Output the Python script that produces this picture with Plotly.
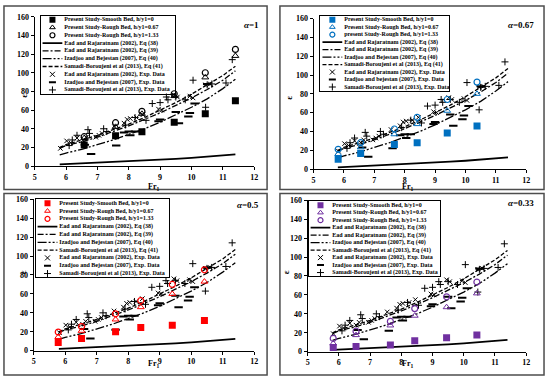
import plotly.graph_objects as go

W, H = 550, 384

# ---------------- data ----------------
fr_curve = [5.8, 6.0, 6.5, 7.0, 7.5, 8.0, 8.5, 9.0, 9.5, 10.0, 10.5, 11.0, 11.4]
eq38 = [1.8, 2.1, 2.8, 3.5, 4.2, 5.0, 5.9, 6.8, 7.8, 8.8, 9.9, 11.1, 12.5]
eq39 = [19, 22, 26, 31, 37, 43, 50, 57, 65, 73, 82, 92, 102]
eq40 = [12, 14, 18, 23, 28, 34, 40, 47, 55, 63, 72, 83, 93]
eq41 = [20, 23, 28, 33, 39, 45, 52, 60, 68, 77, 87, 97, 107]

ead_fr = [5.82, 6.02, 6.15, 6.35, 6.55, 6.65, 6.95, 7.05, 7.15, 7.55, 7.85, 7.95, 8.05, 8.25, 8.45, 8.95, 9.05, 9.45, 9.55, 9.95, 10.05, 10.45, 10.6]
ead_eps = [19, 27, 25, 30, 28, 31, 31, 33, 35, 42, 46, 50, 51, 52, 55, 61, 60, 76, 74, 75, 73, 87, 88]

iza_fr = [6.6, 6.8, 7.6, 7.85, 8.0, 8.2, 8.05, 8.95, 9.0, 9.5, 9.6, 9.9, 9.95, 10.1, 10.5]
iza_eps = [23, 13, 22, 36, 37, 37, 33, 48, 50, 58, 46, 53, 57, 67, 88]

sam_fr = [6.1, 6.2, 6.35, 6.7, 6.75, 7.2, 7.3, 7.9, 8.2, 8.55, 8.75, 9.0, 9.2, 9.25, 9.5, 9.8, 10.05, 10.45, 10.5, 10.65, 11.1, 11.3]
sam_eps = [22, 28, 33, 39, 35, 40, 37, 44, 52, 49, 67, 68, 74, 71, 74, 71, 92, 63, 87, 88, 89, 114]

# present study, per panel
a1_fr = [6.58, 7.58, 8.42, 9.45, 10.44, 11.4]
a1_smooth = [22.7, 32.5, 36.7, 47, 56, 70]
a1_r067 = [30, 42, 56, 75, 95, 118]
a1_r133 = [31.5, 46.5, 58.7, 77.5, 100, 125]

a067_fr = [5.81, 6.55, 7.66, 8.41, 9.4, 10.38]
a067_smooth = [10.4, 16.6, 26, 28, 38.4, 45.7]
a067_r067 = [16, 23, 37, 47.8, 62, 80]
a067_r133 = [21, 28, 42.6, 55, 74, 92.5]

a05_fr = [5.78, 6.52, 7.6, 8.4, 9.4, 10.42]
a05_smooth = [8.6, 12.8, 20, 24.5, 27, 32]
a05_r067 = [14.5, 21, 33, 46, 60, 73]
a05_r133 = [19.7, 25.5, 39, 53, 70, 85.5]

a033_fr = [5.82, 6.55, 7.65, 8.43, 9.45, 10.42]
a033_smooth = [4.5, 5.5, 7, 11.6, 14.7, 17.5]
a033_r067 = [8.6, 17.5, 27.7, 38, 47, 61.6]
a033_r133 = [14, 21.6, 32, 45.5, 58, 73.6]

x_ticks = [5, 6, 7, 8, 9, 10, 11, 12]
y_ticks = [0, 20, 40, 60, 80, 100, 120, 140, 160]

alpha_labels = ["1", "0.67", "0.5", "0.33"]
panel_colors = ["#000000", "#0070C0", "#FF0000", "#7030A0"]

names_common = [
    "Present Study-Smooth Bed, h/y1=0",
    "Present Study-Rough Bed, h/y1=0.67",
    "Present Study-Rough Bed, h/y1=1.33",
    "Ead and Rajaratnam (2002), Eq (38)",
    "Ead and Rajaratnam (2002), Eq (39)",
    "Izadjoo and Bejestan (2007), Eq (40)",
    "Samadi-Boroujeni et al (2013), Eq (41)",
    "Ead and Rajaratnam (2002), Exp. Data",
    "Izadjoo and Bejestan (2007), Exp. Data",
    "Samadi-Boroujeni et al (2013), Exp. Data",
]
names_p2 = list(names_common)
names_p2[2] = "present Study-Rough Bed, h/y1=1.33"
names_p2[8] = "Izadjoo and bejestan (2007), Exp. Data"
legend_names = [names_common, names_p2, names_common, names_common]

# ---------------- layout geometry (pixels) ----------------
plot_boxes = [  # x0, x1 (Fr 5..12), ytop (160), ybottom (0)
    (33, 255, 13, 166),
    (315, 530, 15, 169),
    (32, 255, 200, 355),
    (309, 530, 201, 356),
]
frames = [(2, 2, 268, 190), (281, 2, 548, 190), (2, 194, 268, 380), (281, 194, 548, 380)]
legend_boxes = [(39, 12, 175, 92), (322, 12, 452, 89), (34, 200, 169, 280), (310, 202, 443, 279)]
eps_pos = [(15, 90), (290, 92), (15, 279), (288, 279)]
fr_pos = [(146, 187), (418, 187), (146, 376), (418, 376)]
alpha_pos = [(262, 14), (540, 14), (262, 206), (540, 204)]

present = [
    (a1_fr, a1_smooth, a1_r067, a1_r133),
    (a067_fr, a067_smooth, a067_r067, a067_r133),
    (a05_fr, a05_smooth, a05_r067, a05_r133),
    (a033_fr, a033_smooth, a033_r067, a033_r133),
]

FONT = "Liberation Serif"

def px(x):
    return x / W

def py(y):
    return 1 - y / H

dash39 = "6px,2px,2px,2px"
dash40 = "9px,2px,2px,2px,2px,2px"
dash41 = "4px,2px"

fig = go.Figure()
layout = dict(
    width=W, height=H, margin=dict(l=0, r=0, t=0, b=0),
    paper_bgcolor="white", plot_bgcolor="rgba(0,0,0,0)", showlegend=False,
    shapes=[], annotations=[],
)

box_axis = dict(showline=True, mirror=True, linecolor="black", linewidth=1,
                showgrid=False, zeroline=False, showticklabels=False, ticks="",
                fixedrange=True)

for i in range(4):
    k = i + 1
    xa = "x" if k == 1 else f"x{k}"
    ya = "y" if k == 1 else f"y{k}"
    col = panel_colors[i]
    fr_p, sm, r1, r2 = present[i]

    # model curves
    fig.add_trace(go.Scatter(x=fr_curve, y=eq38, mode="lines", line=dict(color="black", width=1.8), xaxis=xa, yaxis=ya))
    fig.add_trace(go.Scatter(x=fr_curve, y=eq39, mode="lines", line=dict(color="black", width=1.3, dash=dash39), xaxis=xa, yaxis=ya))
    fig.add_trace(go.Scatter(x=fr_curve, y=eq40, mode="lines", line=dict(color="black", width=1.3, dash=dash40), xaxis=xa, yaxis=ya))
    fig.add_trace(go.Scatter(x=fr_curve, y=eq41, mode="lines", line=dict(color="black", width=1.3, dash=dash41), xaxis=xa, yaxis=ya))
    # experimental data
    fig.add_trace(go.Scatter(x=ead_fr, y=ead_eps, mode="markers", marker=dict(symbol="x-thin-open", size=4.5, color="black", line=dict(color="black", width=1)), xaxis=xa, yaxis=ya))
    fig.add_trace(go.Scatter(x=iza_fr, y=iza_eps, mode="markers", marker=dict(symbol="line-ew-open", size=6, color="black", line=dict(color="black", width=2)), xaxis=xa, yaxis=ya))
    fig.add_trace(go.Scatter(x=sam_fr, y=sam_eps, mode="markers", marker=dict(symbol="cross-thin-open", size=5, color="black", line=dict(color="black", width=1)), xaxis=xa, yaxis=ya))
    # present study
    fig.add_trace(go.Scatter(x=fr_p, y=sm, mode="markers", marker=dict(symbol="square", size=7, color=col), xaxis=xa, yaxis=ya))
    fig.add_trace(go.Scatter(x=fr_p, y=r1, mode="markers", marker=dict(symbol="triangle-up-open", size=6, color=col, line=dict(width=1)), xaxis=xa, yaxis=ya))
    fig.add_trace(go.Scatter(x=fr_p, y=r2, mode="markers", marker=dict(symbol="circle-open", size=6, color=col, line=dict(width=1.2)), xaxis=xa, yaxis=ya))

    x0, x1, yt, yb = plot_boxes[i]
    axis_common = dict(
        showgrid=False, zeroline=False, showline=True, linecolor="black", linewidth=1,
        ticks="outside", ticklen=3, tickcolor="black", tickwidth=1,
        tickfont=dict(family=FONT, size=8, color="black", weight="bold"),
    )
    layout["xaxis" if k == 1 else f"xaxis{k}"] = dict(
        domain=[px(x0), px(x1)], range=[5, 12], tickvals=x_ticks, anchor=ya, **axis_common)
    layout["yaxis" if k == 1 else f"yaxis{k}"] = dict(
        domain=[py(yb), py(yt)], range=[0, 160], tickvals=y_ticks, anchor=xa, **axis_common)

    # frame
    fx0, fy0, fx1, fy1 = frames[i]
    layout["shapes"].append(dict(type="rect", xref="paper", yref="paper",
                                 x0=px(fx0), x1=px(fx1), y0=py(fy1), y1=py(fy0),
                                 line=dict(color="#4d4d4d", width=1.5)))

    # legend on its own axes (pixel units); the mirrored axis lines draw its border
    lx0, ly0, lx1, ly1 = legend_boxes[i]
    lw, lh = lx1 - lx0, ly1 - ly0
    kl = k + 4
    lxa, lya = f"x{kl}", f"y{kl}"
    layout[f"xaxis{kl}"] = dict(domain=[px(lx0), px(lx1)], range=[0, lw], anchor=lya, **box_axis)
    layout[f"yaxis{kl}"] = dict(domain=[py(ly1), py(ly0)], range=[lh, 0], anchor=lxa, **box_axis)
    step = (lh - 8) / 9.0
    rows = [4 + j * step for j in range(10)]
    mx = 12
    sx0, sx1 = 2, 22
    tx = 24
    # symbol samples
    fig.add_trace(go.Scatter(x=[mx], y=[rows[0]], mode="markers", marker=dict(symbol="square", size=6, color=col), xaxis=lxa, yaxis=lya))
    fig.add_trace(go.Scatter(x=[mx], y=[rows[1]], mode="markers", marker=dict(symbol="triangle-up-open", size=5, color=col, line=dict(width=1)), xaxis=lxa, yaxis=lya))
    fig.add_trace(go.Scatter(x=[mx], y=[rows[2]], mode="markers", marker=dict(symbol="circle-open", size=5, color=col, line=dict(width=1.2)), xaxis=lxa, yaxis=lya))
    fig.add_trace(go.Scatter(x=[sx0, sx1], y=[rows[3]] * 2, mode="lines", line=dict(color="black", width=1.8), xaxis=lxa, yaxis=lya))
    fig.add_trace(go.Scatter(x=[sx0, sx1], y=[rows[4]] * 2, mode="lines", line=dict(color="black", width=1.3, dash=dash39), xaxis=lxa, yaxis=lya))
    fig.add_trace(go.Scatter(x=[sx0, sx1], y=[rows[5]] * 2, mode="lines", line=dict(color="black", width=1.3, dash=dash40), xaxis=lxa, yaxis=lya))
    fig.add_trace(go.Scatter(x=[sx0, sx1], y=[rows[6]] * 2, mode="lines", line=dict(color="black", width=1.3, dash=dash41), xaxis=lxa, yaxis=lya))
    fig.add_trace(go.Scatter(x=[mx], y=[rows[7]], mode="markers", marker=dict(symbol="x-thin-open", size=5, color="black", line=dict(color="black", width=1)), xaxis=lxa, yaxis=lya))
    fig.add_trace(go.Scatter(x=[mx], y=[rows[8]], mode="markers", marker=dict(symbol="line-ew-open", size=5, color="black", line=dict(color="black", width=2)), xaxis=lxa, yaxis=lya))
    fig.add_trace(go.Scatter(x=[mx], y=[rows[9]], mode="markers", marker=dict(symbol="cross-thin-open", size=5, color="black", line=dict(color="black", width=1)), xaxis=lxa, yaxis=lya))
    fig.add_trace(go.Scatter(x=[tx] * 10, y=rows, mode="text", text=legend_names[i], textposition="middle right",
                             textfont=dict(family=FONT, size=6, color="black", weight="bold"),
                             cliponaxis=False, xaxis=lxa, yaxis=lya))

    # titles
    ex, ey = eps_pos[i]
    layout["annotations"].append(dict(text="ε", x=px(ex), y=py(ey), xref="paper", yref="paper",
                                      showarrow=False, textangle=-90,
                                      font=dict(family=FONT, size=9, color="black", weight="bold")))
    fx, fy = fr_pos[i]
    layout["annotations"].append(dict(text="Fr<sub>1</sub>", x=px(fx), y=py(fy), xref="paper", yref="paper",
                                      showarrow=False, font=dict(family=FONT, size=8, color="black", weight="bold")))
    ax_, ay_ = alpha_pos[i]
    layout["annotations"].append(dict(text="<i>α</i>=" + alpha_labels[i], x=px(ax_), y=py(ay_), xref="paper", yref="paper",
                                      xanchor="right", showarrow=False,
                                      font=dict(family=FONT, size=9, color="black", weight="bold")))

fig.update_layout(**layout)
fig.write_html("out.html", config={"displayModeBar": False},
               post_script="document.body.style.margin='0';document.body.style.padding='0';")
